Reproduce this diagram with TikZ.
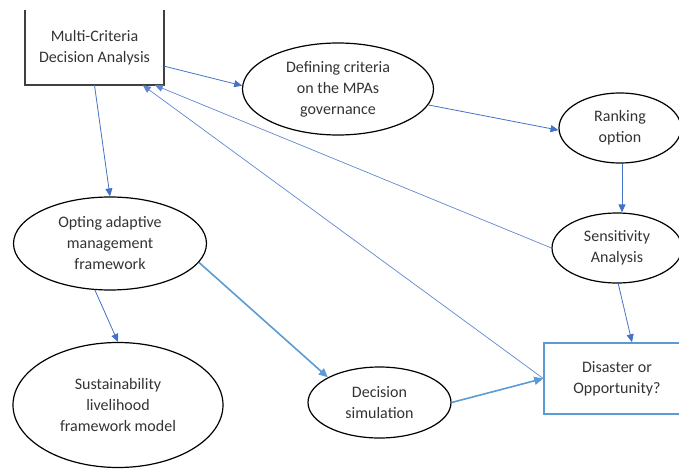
\documentclass[tikz,border=0pt]{standalone}
\usepackage{fontspec}
\setmainfont{Carlito}
\usetikzlibrary{shapes.geometric,arrows.meta}
\definecolor{arrblue}{HTML}{4472C4}
\definecolor{litblue}{HTML}{5B9BD5}
\definecolor{txtgray}{HTML}{333333}
\begin{document}
\begin{tikzpicture}[x=1pt,y=-1pt,
  every node/.style={font=\fontsize{16}{21}\selectfont, text=txtgray, align=center, inner sep=0pt},
  oval/.style={ellipse, draw=black, line width=1.2pt},
  thinarr/.style={draw=arrblue, line width=0.8pt, -{Triangle[length=8pt,width=7pt]}},
  fatarr/.style={draw=litblue, line width=1.6pt, -{Triangle[length=9pt,width=8pt]}},
  lightarr/.style={draw=arrblue!85, line width=0.7pt, -{Triangle[length=8pt,width=7pt]}}
]
\useasboundingbox (0,0) rectangle (679,468);
\clip (0,0) rectangle (679,468);
% nodes
\node[minimum width=139pt, minimum height=75pt] (mcda) at (94.5,47.5) {Multi-Criteria\\Decision Analysis};
\draw[draw=black!75, line width=2pt] (mcda.north west) -- (mcda.south west) -- (mcda.south east) -- (mcda.north east);
\node[oval, minimum width=191pt, minimum height=92pt] (def) at (338,89) {Defining criteria\\on the MPAs\\governance};
\node[oval, minimum width=122pt, minimum height=70pt] (rank) at (620,128) {Ranking\\option};
\node[oval, minimum width=130pt, minimum height=70pt] (sens) at (617,248) {Sensitivity\\Analysis};
\node[oval, minimum width=193pt, minimum height=93pt] (opt) at (110,243.5) {Opting adaptive\\management\\framework};
\node[oval, minimum width=210pt, minimum height=125pt] (sust) at (118,405) {Sustainability\\livelihood\\framework model};
\node[oval, minimum width=143pt, minimum height=71pt] (dec) at (379.5,402.5) {Decision\\simulation};
\node[draw=litblue, line width=1.5pt, minimum width=146pt, minimum height=71pt] (dis) at (617,378.5) {Disaster or\\Opportunity?};
% connectors
\draw[thinarr] (mcda.-15) -- (def.178);
\draw[thinarr] (mcda.south) -- (opt.north);
\draw[thinarr] (def.-10) -- (rank.182);
\draw[thinarr] ([xshift=2pt]rank.south) -- ([xshift=2pt]rank.south |- sens.north);
\draw[thinarr] (sens.-88) -- ([xshift=15pt]dis.north);
\draw[lightarr] (sens.180) -- (mcda.-32.7);
\draw[lightarr] (dis.west) -- (mcda.-38.3);
\draw[thinarr] (opt.-108) -- (sust.north);
\draw[fatarr] (opt.-12) -- (dec.154);
\draw[fatarr] (dec.east) -- (dis.west);
\end{tikzpicture}
\end{document}
